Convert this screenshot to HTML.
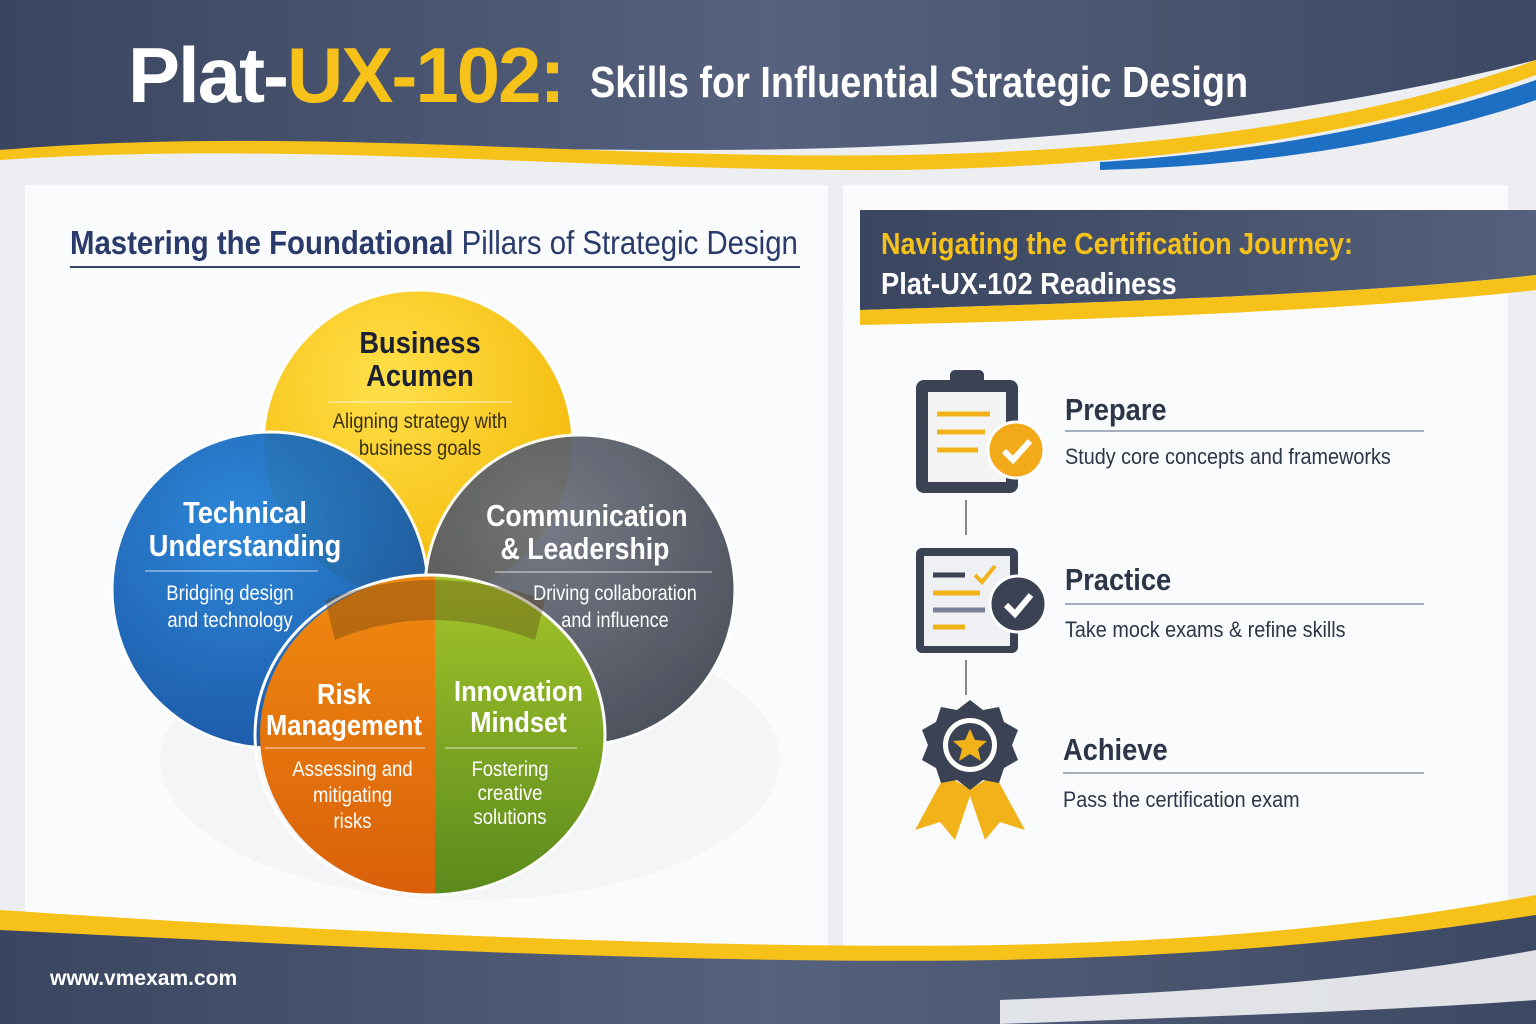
<!DOCTYPE html>
<html><head><meta charset="utf-8"><style>
*{margin:0;padding:0;box-sizing:border-box}
body{width:1536px;height:1024px;overflow:hidden;background:#eceef1;font-family:"Liberation Sans",sans-serif;position:relative}
.abs{position:absolute}
.t{position:absolute;white-space:nowrap}
</style></head><body>
<svg class="abs" style="left:0;top:0" width="1536" height="1024">
<defs>
<linearGradient id="hd" x1="0" y1="0" x2="1" y2="0"><stop offset="0" stop-color="#3a4560"/><stop offset="0.5" stop-color="#56617d"/><stop offset="1" stop-color="#3d4862"/></linearGradient>
<radialGradient id="gy" cx="0.4" cy="0.3" r="0.8"><stop offset="0" stop-color="#ffe04a"/><stop offset="1" stop-color="#f2b400"/></radialGradient>
<radialGradient id="gb" cx="0.4" cy="0.3" r="0.8"><stop offset="0" stop-color="#1f7fd6"/><stop offset="1" stop-color="#0b4a9e"/></radialGradient>
<radialGradient id="gg" cx="0.4" cy="0.3" r="0.8"><stop offset="0" stop-color="#6b707c"/><stop offset="1" stop-color="#3d424e"/></radialGradient>
<linearGradient id="go" x1="0" y1="0" x2="0" y2="1"><stop offset="0" stop-color="#f08a10"/><stop offset="1" stop-color="#d9600a"/></linearGradient>
<linearGradient id="gr" x1="0" y1="0" x2="0" y2="1"><stop offset="0" stop-color="#a4c52a"/><stop offset="1" stop-color="#5a8a1c"/></linearGradient>
<linearGradient id="rh" x1="0" y1="0" x2="1" y2="0"><stop offset="0" stop-color="#3a4560"/><stop offset="1" stop-color="#55607a"/></linearGradient>
</defs>
<path d="M0 0H1536V60C1300 120 1000 150 700 150C400 150 200 140 0 150Z" fill="url(#hd)"/>
<path d="M0 150C300 125 600 160 900 155C1200 150 1400 110 1536 60V75C1400 125 1200 165 900 170C600 172 300 140 0 160Z" fill="#f6c21a"/>
<path d="M1100 162C1300 150 1450 110 1536 80V100C1450 130 1300 165 1100 170Z" fill="#1d6fc4"/>
<rect x="25" y="185" width="803" height="770" fill="#fafbfc"/>
<rect x="843" y="185" width="665" height="770" fill="#fafbfc"/>
<path d="M860 210H1536V275C1400 290 1200 300 860 310Z" fill="url(#rh)"/>
<path d="M860 310C1200 300 1400 290 1536 275V290C1400 305 1200 318 860 325Z" fill="#f6c21a"/>
<path d="M0 910C300 930 700 950 1000 945C1250 940 1400 920 1536 895V1024H0Z" fill="#f6c21a"/>
<path d="M0 930C300 945 700 965 1000 960C1250 955 1400 935 1536 915V1024H0Z" fill="url(#hd)"/>
<path d="M1000 1000C1250 990 1400 975 1536 950V1000C1400 1010 1250 1015 1000 1024Z" fill="#f2f3f5" opacity="0.9"/>
<line x1="70" y1="267" x2="800" y2="267" stroke="#3a4560" stroke-width="2"/>
<ellipse cx="470" cy="760" rx="310" ry="140" fill="#000" opacity="0.025"/>
<circle cx="418" cy="445" r="155" fill="url(#gy)" stroke="#fff" stroke-width="3"/>
<circle cx="270" cy="590" r="158" fill="url(#gb)" stroke="#fff" stroke-width="3" opacity="0.93"/>
<circle cx="580" cy="590" r="155" fill="url(#gg)" stroke="#fff" stroke-width="3" opacity="0.93"/>
<path d="M435 575A175 160 0 0 0 435 895Z" fill="url(#go)"/>
<path d="M435 575A170 160 0 0 1 435 895Z" fill="url(#gr)"/>
<ellipse cx="430" cy="735" rx="175" ry="160" fill="none" stroke="#fff" stroke-width="3"/>
<path d="M325 600Q430 560 545 600L535 640Q430 600 335 640Z" fill="#5a3a10" opacity="0.35"/>
<g stroke="#fff" stroke-opacity="0.6" stroke-width="1.2">
<line x1="328" y1="402" x2="512" y2="402"/><line x1="145" y1="571" x2="318" y2="571"/><line x1="495" y1="572" x2="712" y2="572"/><line x1="265" y1="748" x2="425" y2="748"/><line x1="445" y1="748" x2="577" y2="748"/></g>
<line x1="966" y1="500" x2="966" y2="535" stroke="#888" stroke-width="2"/>
<line x1="966" y1="660" x2="966" y2="695" stroke="#888" stroke-width="2"/>
<g stroke="#8a93a6" stroke-width="1.5"><line x1="1065" y1="431" x2="1424" y2="431"/><line x1="1065" y1="604" x2="1424" y2="604"/><line x1="1063" y1="773" x2="1424" y2="773"/></g>
<rect x="916" y="380" width="102" height="113" rx="8" fill="#3a4254"/>
<rect x="928" y="392" width="78" height="90" fill="#f4f4f4"/>
<rect x="950" y="370" width="34" height="20" rx="5" fill="#3a4254"/>
<g stroke="#f2b21a" stroke-width="5"><line x1="937" y1="414" x2="990" y2="414"/><line x1="937" y1="432" x2="985" y2="432"/><line x1="937" y1="450" x2="978" y2="450"/></g>
<circle cx="1016" cy="450" r="28" fill="#f2a91a" stroke="#fff" stroke-width="3"/>
<path d="M1004 451L1013 460L1030 441" stroke="#fff" stroke-width="6" fill="none"/>
<rect x="916" y="548" width="102" height="105" rx="6" fill="#3a4254"/>
<rect x="924" y="556" width="86" height="90" fill="#eef0f4"/>
<g stroke-width="5"><line x1="933" y1="575" x2="965" y2="575" stroke="#3a4254"/><line x1="933" y1="593" x2="980" y2="593" stroke="#f2b21a"/><line x1="933" y1="610" x2="985" y2="610" stroke="#7a8196"/><line x1="933" y1="627" x2="965" y2="627" stroke="#f2b21a"/></g>
<path d="M975 575L982 582L995 566" stroke="#f2b21a" stroke-width="4" fill="none"/>
<circle cx="1018" cy="604" r="28" fill="#3a4254" stroke="#fff" stroke-width="3"/>
<path d="M1006 605L1015 614L1031 595" stroke="#fff" stroke-width="6" fill="none"/>
<path d="M945 775L915 830L940 822L955 840L972 790Z" fill="#f2b21a"/>
<path d="M995 775L1025 830L1000 822L985 840L968 790Z" fill="#f2b21a"/>
<polygon points="970,700 983,710 999,707 1004,722 1018,730 1012,745 1018,760 1004,768 999,783 983,780 970,790 957,780 941,783 936,768 922,760 928,745 922,730 936,722 941,707 957,710" fill="#3a4254"/>
<circle cx="970" cy="745" r="27" fill="#fff"/>
<circle cx="970" cy="745" r="22" fill="#3a4254"/>
<polygon points="970,729 975,740 987,741 978,749 981,761 970,754 959,761 962,749 953,741 965,740" fill="#f2b21a"/>
</svg>
<div class="t" style="left:128px;top:30px;font-size:78px;font-weight:bold;color:#fff;letter-spacing:-2px">Plat-<span style="color:#f6c21a">UX-102:</span></div>
<div class="t" style="left:590px;top:58px;font-size:44px;font-weight:bold;color:#fff;transform:scaleX(0.86);transform-origin:left">Skills for Influential Strategic Design</div>
<div class="t" style="left:70px;top:224px;font-size:33px;color:#2a3a6a;transform:scaleX(0.89);transform-origin:left"><b>Mastering the Foundational</b> Pillars of Strategic Design</div>
<div class="t" style="left:881px;top:226px;font-size:31px;font-weight:bold;color:#f6c21a;transform:scaleX(0.87);transform-origin:left">Navigating the Certification Journey:</div>
<div class="t" style="left:881px;top:266px;font-size:31px;font-weight:bold;color:#fff;transform:scaleX(0.88);transform-origin:left">Plat-UX-102 Readiness</div>
<div class="t" style="left:300px;top:326px;width:240px;text-align:center;font-size:31px;font-weight:bold;color:#1d2030;line-height:33px;transform:scaleX(0.88)">Business<br>Acumen</div>
<div class="t" style="left:300px;top:408px;width:240px;text-align:center;font-size:21px;color:#3a3010;line-height:27px;transform:scaleX(0.88)">Aligning strategy with<br>business goals</div>
<div class="t" style="left:120px;top:496px;width:250px;text-align:center;font-size:31px;font-weight:bold;color:#fff;line-height:33px;transform:scaleX(0.88)">Technical<br>Understanding</div>
<div class="t" style="left:140px;top:580px;width:180px;text-align:center;font-size:21px;color:#fff;line-height:27px;transform:scaleX(0.88)">Bridging design<br>and technology</div>
<div class="t" style="left:470px;top:499px;width:230px;text-align:center;font-size:31px;font-weight:bold;color:#fff;line-height:33px;transform:scaleX(0.86)">Communication<br>&amp; Leadership</div>
<div class="t" style="left:500px;top:580px;width:230px;text-align:center;font-size:21px;color:#fff;line-height:27px;transform:scaleX(0.86)">Driving collaboration<br>and influence</div>
<div class="t" style="left:254px;top:680px;width:180px;text-align:center;font-size:29px;font-weight:bold;color:#fff;line-height:31px;transform:scaleX(0.88)">Risk<br>Management</div>
<div class="t" style="left:270px;top:757px;width:165px;text-align:center;font-size:21px;color:#fff;line-height:26px;transform:scaleX(0.88)">Assessing and<br>mitigating<br>risks</div>
<div class="t" style="left:436px;top:677px;width:165px;text-align:center;font-size:29px;font-weight:bold;color:#fff;line-height:31px;transform:scaleX(0.88)">Innovation<br>Mindset</div>
<div class="t" style="left:430px;top:758px;width:160px;text-align:center;font-size:21px;color:#fff;line-height:24px;transform:scaleX(0.88)">Fostering<br>creative<br>solutions</div>
<div class="t" style="left:1065px;top:392px;font-size:31px;font-weight:bold;color:#2d3548;transform:scaleX(0.88);transform-origin:left">Prepare</div>
<div class="t" style="left:1065px;top:444px;font-size:22px;color:#2d3548;transform:scaleX(0.9);transform-origin:left">Study core concepts and frameworks</div>
<div class="t" style="left:1065px;top:562px;font-size:31px;font-weight:bold;color:#2d3548;transform:scaleX(0.88);transform-origin:left">Practice</div>
<div class="t" style="left:1065px;top:617px;font-size:22px;color:#2d3548;transform:scaleX(0.9);transform-origin:left">Take mock exams &amp; refine skills</div>
<div class="t" style="left:1063px;top:732px;font-size:31px;font-weight:bold;color:#2d3548;transform:scaleX(0.88);transform-origin:left">Achieve</div>
<div class="t" style="left:1063px;top:787px;font-size:22px;color:#2d3548;transform:scaleX(0.9);transform-origin:left">Pass the certification exam</div>
<div class="t" style="left:50px;top:967px;font-size:21px;font-weight:bold;color:#fff">www.vmexam.com</div>
</body></html>
